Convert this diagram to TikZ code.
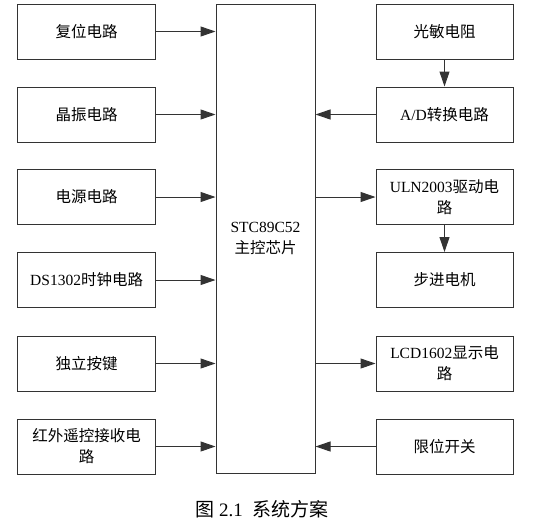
\documentclass[tikz,border=0pt]{standalone}
\usepackage{fontspec}
\setmainfont{Liberation Serif}
\newfontfamily\cjk{Noto Sans CJK SC}
\usetikzlibrary{arrows.meta}
\tikzset{
  blk/.style={draw=black!80, line width=1pt, minimum width=138pt, minimum height=55pt, align=center, font=\fontsize{15.5}{21}\selectfont, inner sep=0pt},
  arr/.style={draw=black!80, line width=1pt, -{Triangle[length=15pt,width=10pt]}}
}
\begin{document}
\begin{tikzpicture}[x=1pt,y=-1pt]
\useasboundingbox (0,0) rectangle (534,525);
% left column
\node[blk] (l1) at (86.6,31.5) {\cjk 复位电路};
\node[blk] (l2) at (86.6,114.5) {\cjk 晶振电路};
\node[blk] (l3) at (86.6,197) {\cjk 电源电路};
\node[blk] (l4) at (86.6,280) {DS1302{\cjk 时钟电路}};
\node[blk] (l5) at (86.6,363.5) {\cjk 独立按键};
\node[blk] (l6) at (86.6,446.5) {\cjk 红外遥控接收电\\\cjk 路};
% center
\node[blk, minimum width=99pt, minimum height=469.5pt] (c) at (265.5,239.2) {};
\node[font=\fontsize{15.5}{21}\selectfont, align=center, inner sep=0pt] (ct) at (265.5,238) {STC89C52\\{\cjk 主控芯片}};
% right column
\node[blk, minimum width=137pt] (r1) at (444.5,31.5) {\cjk 光敏电阻};
\node[blk, minimum width=137pt] (r2) at (444.5,114.5) {A/D{\cjk 转换电路}};
\node[blk, minimum width=137pt] (r3) at (444.5,197) {ULN2003{\cjk 驱动电}\\{\cjk 路}};
\node[blk, minimum width=137pt] (r4) at (444.5,280) {\cjk 步进电机};
\node[blk, minimum width=137pt] (r5) at (444.5,363.5) {LCD1602{\cjk 显示电}\\{\cjk 路}};
\node[blk, minimum width=137pt] (r6) at (444.5,446.5) {\cjk 限位开关};
% arrows
\foreach \n in {l1,l2,l3,l4,l5,l6} \draw[arr] (\n.east) -- (\n.east -| c.west);
\draw[arr] (r2.west) -- (r2.west -| c.east);
\draw[arr] (r3.west -| c.east) -- (r3.west);
\draw[arr] (r5.west -| c.east) -- (r5.west);
\draw[arr] (r6.west) -- (r6.west -| c.east);
\draw[arr] (r1.south) -- (r2.north);
\draw[arr] (r3.south) -- (r4.north);
% caption
\node[font=\fontsize{19}{23}\selectfont, inner sep=0pt] (cap) at (262,509) {{\cjk 图} 2.1\hspace{10pt}{\cjk 系统方案}};
\end{tikzpicture}
\end{document}
